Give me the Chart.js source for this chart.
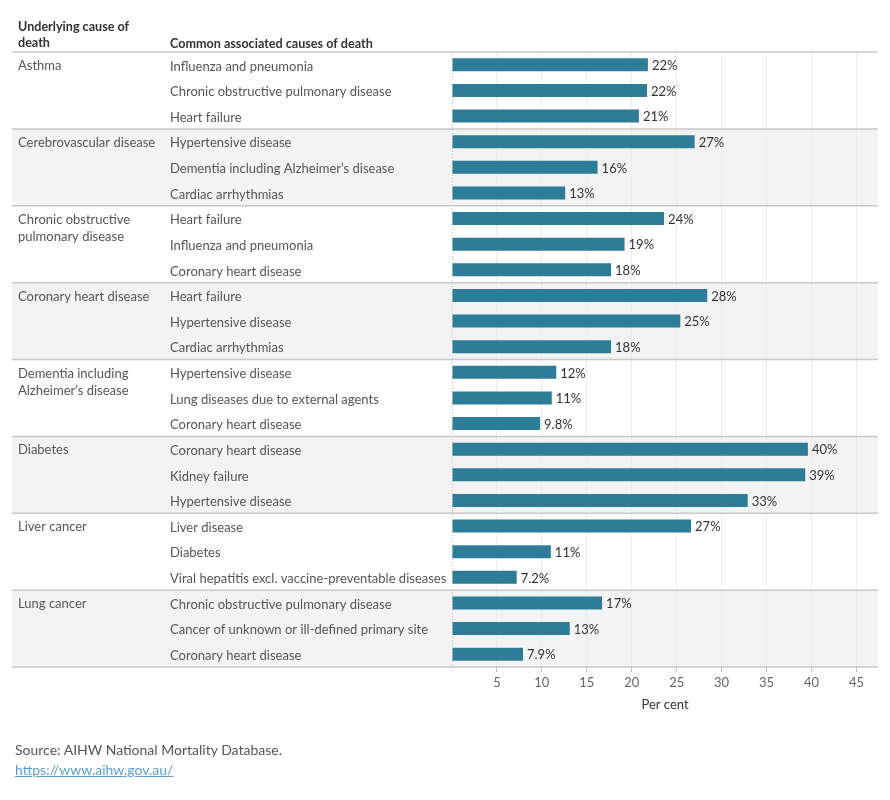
<!DOCTYPE html>
<html>
<head>
<meta charset="utf-8">
<script src="https://cdn.jsdelivr.net/npm/chart.js@4.4.1/dist/chart.umd.min.js"></script>
<style>
  html, body { margin: 0; padding: 0; background: #fff; }
  #wrap { position: relative; width: 890px; height: 800px; }
  #source { position: absolute; left: 15px; top: 740px; font-family: Lato, sans-serif; font-size: 14px; color: #555; line-height: 20px; }
  #source a { color: #5a9fcf; text-decoration: underline; }
</style>
</head>
<body>
<div id="wrap">
  <canvas id="c" width="890" height="800"></canvas>
  <div id="source">Source: AIHW National Mortality Database.<br><a href="https://www.aihw.gov.au/">https://www.aihw.gov.au/</a></div>
</div>
<script>
const underlyingCauses = [
  ["Asthma"],
  ["Cerebrovascular disease"],
  ["Chronic obstructive", "pulmonary disease"],
  ["Coronary heart disease"],
  ["Dementia including", "Alzheimer\u2019s disease"],
  ["Diabetes"],
  ["Liver cancer"],
  ["Lung cancer"]
];
const associatedCauses = [
  "Influenza and pneumonia", "Chronic obstructive pulmonary disease", "Heart failure",
  "Hypertensive disease", "Dementia including Alzheimer\u2019s disease", "Cardiac arrhythmias",
  "Heart failure", "Influenza and pneumonia", "Coronary heart disease",
  "Heart failure", "Hypertensive disease", "Cardiac arrhythmias",
  "Hypertensive disease", "Lung diseases due to external agents", "Coronary heart disease",
  "Coronary heart disease", "Kidney failure", "Hypertensive disease",
  "Liver disease", "Diabetes", "Viral hepatitis excl. vaccine-preventable diseases",
  "Chronic obstructive pulmonary disease", "Cancer of unknown or ill-defined primary site", "Coronary heart disease"
];
const perCent = [
  21.8, 21.7, 20.8,
  27.0, 16.2, 12.6,
  23.6, 19.2, 17.7,
  28.4, 25.4, 17.7,
  11.6, 11.1, 9.8,
  39.6, 39.3, 32.9,
  26.6, 11.0, 7.2,
  16.7, 13.1, 7.9
];
const xAxisMax = 47.4;
const xTickStep = 5;
const headerUnderlying = ["Underlying cause of", "death"];
const headerAssociated = "Common associated causes of death";
const axisTitle = "Per cent";

const FONT = "Lato, sans-serif";
const ROWS_PER_GROUP = 3;

function fmt(v) {
  return (v >= 10 ? Math.round(v).toString() : v.toFixed(1)) + "%";
}

const tablePlugin = {
  id: "table",
  beforeDraw(chart) {
    const ctx = chart.ctx;
    const y = chart.scales.y;
    const ca = chart.chartArea;
    const half = (y.getPixelForValue(1) - y.getPixelForValue(0)) / 2;
    const L = 12, R = ca.right;
    ctx.save();
    underlyingCauses.forEach((g, i) => {
      const top = y.getPixelForValue(i * ROWS_PER_GROUP) - half;
      const bot = y.getPixelForValue(i * ROWS_PER_GROUP + ROWS_PER_GROUP - 1) + half;
      if (i % 2 === 1) {
        ctx.fillStyle = "#f3f3f3";
        ctx.fillRect(L, top, R - L, bot - top);
      }
    });
    // headers
    ctx.fillStyle = "#333";
    ctx.font = "bold 12.6px " + FONT;
    ctx.textBaseline = "middle";
    ctx.textAlign = "left";
    headerUnderlying.forEach((t, k) => ctx.fillText(t, 18, 27 + k * 16));
    ctx.fillText(headerAssociated, 170, 44);
    // underlying cause names
    ctx.fillStyle = "#555";
    ctx.font = "13px " + FONT;
    underlyingCauses.forEach((g, i) => {
      const yc = y.getPixelForValue(i * ROWS_PER_GROUP) + 1;
      g.forEach((t, k) => ctx.fillText(t, 18, yc + k * 17.5));
    });
    ctx.restore();
  },
  beforeDatasetsDraw(chart) {
    const ctx = chart.ctx;
    const y = chart.scales.y;
    const x = chart.scales.x;
    const ca = chart.chartArea;
    const half = (y.getPixelForValue(1) - y.getPixelForValue(0)) / 2;
    ctx.save();
    // zero dotted line
    ctx.strokeStyle = "#bdbdbd";
    ctx.lineWidth = 1;
    ctx.setLineDash([1, 2]);
    const x0 = Math.round(x.getPixelForValue(0)) + 0.5;
    ctx.beginPath();
    ctx.moveTo(x0, ca.top);
    ctx.lineTo(x0, ca.bottom + 6);
    ctx.stroke();
    ctx.setLineDash([]);
    // separators
    ctx.strokeStyle = "#c8c8c8";
    ctx.lineWidth = 1.5;
    for (let i = 0; i <= underlyingCauses.length; i++) {
      const yy = y.getPixelForValue(i * ROWS_PER_GROUP) - half;
      ctx.beginPath();
      ctx.moveTo(12, yy);
      ctx.lineTo(ca.right, yy);
      ctx.stroke();
    }
    ctx.restore();
  },
  afterDatasetsDraw(chart) {
    const ctx = chart.ctx;
    const meta = chart.getDatasetMeta(0);
    ctx.save();
    ctx.fillStyle = "#333";
    ctx.font = "13px " + FONT;
    ctx.textAlign = "left";
    ctx.textBaseline = "middle";
    meta.data.forEach((bar, i) => {
      ctx.fillText(fmt(perCent[i]), bar.x + 4, bar.y + 1);
    });
    ctx.restore();
  }
};

new Chart(document.getElementById("c"), {
  type: "bar",
  data: {
    labels: associatedCauses,
    datasets: [{
      data: perCent,
      backgroundColor: "#2e7d98",
      barPercentage: 0.51,
      categoryPercentage: 1.0
    }]
  },
  options: {
    indexAxis: "y",
    responsive: false,
    animation: false,
    events: [],
    layout: { padding: { left: 170, right: 12, top: 52, bottom: 80 } },
    plugins: { legend: { display: false }, tooltip: { enabled: false } },
    scales: {
      y: {
        grid: { display: false },
        border: { display: false },
        ticks: {
          autoSkip: false,
          crossAlign: "far",
          color: "#555",
          font: { family: FONT, size: 13 },
          padding: 0,
          labelOffset: 1.5
        },
        afterFit(s) { s.width = 282; }
      },
      x: {
        min: 0,
        max: xAxisMax,
        border: { display: false },
        grid: {
          color: (c) => (c.tick && c.tick.value === 0) ? "rgba(0,0,0,0)" : "#ebebeb",
          tickColor: (c) => (c.tick && c.tick.value === 0) ? "rgba(0,0,0,0)" : "#bdbdbd",
          tickLength: 5,
          lineWidth: 1
        },
        ticks: {
          stepSize: xTickStep,
          includeBounds: false,
          color: "#666",
          font: { family: FONT, size: 13 },
          padding: 3,
          callback: (v) => v === 0 ? "" : v
        },
        title: {
          display: true,
          text: axisTitle,
          color: "#333",
          font: { family: FONT, size: 13 },
          padding: { top: 4, bottom: 7 }
        },
        afterFit(s) { s.height = 53; }
      }
    }
  },
  plugins: [tablePlugin]
});
</script>
</body>
</html>
